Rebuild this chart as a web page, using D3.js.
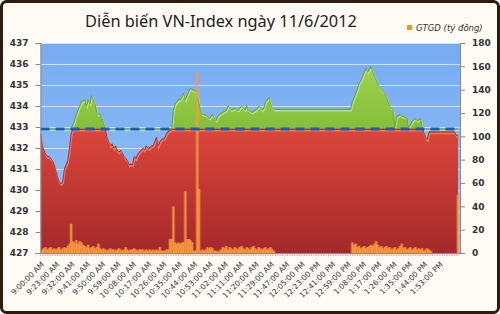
<!DOCTYPE html>
<html><head><meta charset="utf-8">
<script src="https://cdn.jsdelivr.net/npm/d3@7"></script>
<style>body{margin:0;background:#fff;} svg{display:block}</style>
</head><body><svg id="c" width="500" height="314"></svg>
<script>
const chartTitle = "Diễn biến VN-Index ngày 11/6/2012";
const legendLabel = "GTGD (tỷ đồng)";
const refIndex = 432.9;
const leftTicks = [427,428,429,430,431,432,433,434,435,436,437];
const rightTicks = [0,20,40,60,80,100,120,140,160,180];
const tickLabels = ["9:00:00 AM","9:23:00 AM","9:32:00 AM","9:41:00 AM","9:50:00 AM","9:59:00 AM","10:08:00 AM","10:17:00 AM","10:26:00 AM","10:35:00 AM","10:44:00 AM","10:53:00 AM","11:02:00 AM","11:11:00 AM","11:20:00 AM","11:29:00 AM","11:47:00 AM","12:05:00 PM","12:23:00 PM","12:41:00 PM","12:59:00 PM","1:08:00 PM","1:17:00 PM","1:26:00 PM","1:35:00 PM","1:44:00 PM","1:53:00 PM"];
const tickEvery = 9;

const indexValues = [
432.7,432.1,431.9,431.7,431.6,431.6,431.5,431.4,431.2,430.9,
430.6,430.4,430.3,430.4,431.0,431.2,431.4,432.0,432.7,433.1,
433.3,433.6,433.8,434.0,434.2,434.25,434.3,434.0,434.3,434.1,
434.5,434.3,434.1,433.7,433.6,433.6,433.4,433.2,432.9,432.5,
432.3,432.1,432.2,432.0,432.1,431.9,431.8,431.9,431.75,431.6,
431.5,431.4,431.2,431.25,431.2,431.6,431.5,431.7,431.8,431.9,
432.0,431.9,432.1,432.0,432.0,432.1,432.1,432.3,432.5,432.1,
432.3,432.4,432.45,432.5,432.7,432.8,432.85,432.95,433.8,434.1,
434.2,434.3,434.3,434.45,434.6,434.3,434.5,434.7,434.85,434.76,
434.76,434.7,434.6,434.1,433.8,433.6,433.6,433.55,433.5,433.4,
433.5,433.6,433.4,433.3,433.5,433.6,433.65,433.7,433.75,433.8,
434.0,433.9,433.8,433.85,433.9,433.8,433.8,433.9,434.0,433.9,
433.8,434.0,433.8,433.75,433.7,433.75,433.8,433.85,434.0,433.9,
433.8,433.9,434.2,434.3,434.4,434.1,433.9,433.84,433.84,433.84,
433.84,433.84,433.84,433.84,433.84,433.84,433.84,433.84,433.84,433.84,
433.84,433.84,433.84,433.84,433.84,433.84,433.84,433.84,433.84,433.84,
433.84,433.84,433.84,433.84,433.84,433.84,433.84,433.84,433.84,433.84,
433.84,433.84,433.84,433.84,433.84,433.84,433.84,433.84,433.84,433.84,
433.84,433.84,433.84,434.2,434.4,434.6,434.8,435.1,435.2,435.4,
435.6,435.8,435.6,435.75,435.87,435.6,435.4,435.2,435.0,434.9,
434.8,434.7,434.6,434.4,434.2,434.0,433.9,433.8,433.0,433.5,
433.55,433.6,433.5,433.5,433.45,433.4,433.0,433.1,433.25,433.35,
433.4,433.3,433.35,433.4,433.0,432.7,432.5,432.4,432.77,432.77,
432.77,432.77,432.77,432.77,432.77,432.77,432.77,432.77,432.77,432.77,
432.77,432.77,432.77,432.77,432.6,432.6
];

const volumeValues = [
2,3,4,5,3,4,5,3,4,3,
4,5,3,4,5,4,6,8,25,10,
9,11,8,10,9,7,6,5,7,4,
5,6,4,5,8,4,3,4,3,2,
3,4,3,3,2,3,4,3,2,3,
5,3,2,3,3,4,3,2,3,3,
3,2,3,2,3,2,3,2,3,2,
5,2,2,2,3,3,12,12,40,9,
8,9,8,9,9,53,12,12,11,9,
2,2,155,55,2,3,2,3,5,4,
5,4,2,2,1,2,3,5,4,6,
3,5,4,3,5,4,3,5,6,4,
3,5,4,3,5,6,4,3,5,4,
3,4,5,3,4,5,3,2,0,0,
0,0,0,0,0,0,0,0,0,0,
0,0,0,0,0,0,0,0,0,0,
0,0,0,0,0,0,0,0,0,0,
0,0,0,0,0,0,0,0,0,0,
0,0,0,9,7,8,5,6,4,5,
6,4,5,6,7,6,8,10,7,5,
6,4,5,6,4,5,3,4,5,3,
4,6,8,4,5,3,4,5,3,4,
5,3,4,3,4,2,3,4,3,2,
0,0,0,0,0,0,0,0,0,0,
0,0,0,0,0,50
];

// trading-minute categories (session start, count, step in minutes)
const sessions = [["9:00",1,1],["9:15",135,1],["11:31",45,2],["13:00",65,1]];
const categories = [];
sessions.forEach(([s,n,st])=>{
  let [h,m] = s.split(":").map(Number); let t = h*60+m;
  for(let k=0;k<n;k++){ const tt=t+k*st; const hh=Math.floor(tt/60), mm=tt%60;
    const h12 = hh>12?hh-12:hh; categories.push(h12+":"+String(mm).padStart(2,"0")+":00 "+(hh>=12?"PM":"AM")); }
});

const svg = d3.select("#c");
const W=500,H=314;
const L=40.5,R=460,T=43,B=253;
const defs = svg.append("defs");

svg.append("rect").attr("x",1.5).attr("y",1.5).attr("width",W-3).attr("height",H-3)
  .attr("rx",5).attr("fill","#fdfbf4").attr("stroke","#2e1c10").attr("stroke-width",3);

const x = d3.scalePoint().domain(categories).range([L,458]);
const yL = d3.scaleLinear().domain([427,437]).range([B,T]);
const yR = d3.scaleLinear().domain([0,180]).range([B,T]);

const gb = defs.append("linearGradient").attr("id","gBlue").attr("x1",0).attr("y1",0).attr("x2",0).attr("y2",1);
gb.append("stop").attr("offset","0%").attr("stop-color","#77abf2");
gb.append("stop").attr("offset","100%").attr("stop-color","#93c1f8");
const gr = defs.append("linearGradient").attr("id","gRed").attr("gradientUnits","userSpaceOnUse")
  .attr("x1",0).attr("y1",yL(refIndex)).attr("x2",0).attr("y2",B);
gr.append("stop").attr("offset","0%").attr("stop-color","#dc463b");
gr.append("stop").attr("offset","100%").attr("stop-color","#a4292a");
const gg = defs.append("linearGradient").attr("id","gGreen").attr("x1",0).attr("y1",0).attr("x2",0).attr("y2",1);
gg.append("stop").attr("offset","0%").attr("stop-color","#9fd24e");
gg.append("stop").attr("offset","100%").attr("stop-color","#84bf39");
defs.append("clipPath").attr("id","clip").append("rect").attr("x",L).attr("y",T).attr("width",R-L).attr("height",B-T);

svg.append("rect").attr("x",L).attr("y",T).attr("width",R-L).attr("height",B-T).attr("fill","url(#gBlue)");

// gridlines
svg.append("g").selectAll("line").data(leftTicks).join("line")
  .attr("x1",L).attr("x2",R).attr("y1",d=>Math.round(yL(d))+0.5).attr("y2",d=>Math.round(yL(d))+0.5)
  .attr("stroke","#cfe1f7").attr("stroke-width",1);

const plot = svg.append("g").attr("clip-path","url(#clip)");
const xi = (d,i)=>x(categories[i]);

const redTop = d3.line().x(xi).y(d=>yL(Math.min(d,refIndex)));
const greenTop = d3.line().x(xi).y(d=>yL(Math.max(d,refIndex)));

plot.append("path").datum(indexValues)
  .attr("d",d3.area().x(xi).y0(yL(refIndex)).y1(d=>yL(Math.max(d,refIndex))))
  .attr("fill","url(#gGreen)");
plot.append("path").datum(indexValues).attr("d",greenTop).attr("transform","translate(0.8,1.4)")
  .attr("fill","none").attr("stroke","#c4e78e").attr("stroke-width",1.3).attr("opacity",0.8);
plot.append("path").datum(indexValues).attr("d",greenTop)
  .attr("fill","none").attr("stroke","#5b8c27").attr("stroke-width",0.7);

plot.append("path").datum(indexValues)
  .attr("d",d3.area().x(xi).y0(B).y1(d=>yL(Math.min(d,refIndex))))
  .attr("fill","url(#gRed)");
plot.append("path").datum(indexValues).attr("d",redTop).attr("transform","translate(0.6,1.6)")
  .attr("fill","none").attr("stroke","#f08272").attr("stroke-width",1.6).attr("opacity",0.85);
plot.append("path").datum(indexValues).attr("d",redTop)
  .attr("fill","none").attr("stroke","#8a1d18").attr("stroke-width",0.7);

// volume bars
const bw = x.step()*0.95;
const bars = plot.append("g");
bars.selectAll("rect.glow").data(volumeValues).join("rect").attr("class","glow")
  .attr("x",(d,i)=>x(categories[i])-bw/2-1).attr("width",bw+2)
  .attr("y",d=>yR(d)).attr("height",d=>B-yR(d))
  .attr("fill","#f7a050").attr("opacity",d=>d>0?0.35:0);
bars.selectAll("rect.bar").data(volumeValues).join("rect").attr("class","bar")
  .attr("x",(d,i)=>x(categories[i])-bw/2).attr("width",bw)
  .attr("y",d=>yR(d)).attr("height",d=>B-yR(d))
  .attr("fill","#f79a3c").attr("opacity",0.9);

// reference dashed line
svg.append("line").attr("x1",L).attr("x2",R).attr("y1",yL(refIndex)).attr("y2",yL(refIndex))
  .attr("stroke","#1560b5").attr("stroke-width",3).attr("stroke-dasharray","9,6");

// axes
const axFont = "DejaVu Sans";
const gl = svg.append("g").attr("transform",`translate(${L},0)`)
  .call(d3.axisLeft(yL).tickValues(leftTicks).tickSize(5).tickPadding(7).tickFormat(d3.format("d")));
const gr2 = svg.append("g").attr("transform",`translate(${R},0)`)
  .call(d3.axisRight(yR).tickValues(rightTicks).tickSize(5).tickPadding(7).tickFormat(d3.format("d")));
[gl,gr2].forEach(g=>{
  g.select(".domain").attr("stroke","#8a8a8a");
  g.selectAll(".tick line").attr("stroke","#8a8a8a");
  g.selectAll("text").attr("font-family",axFont).attr("font-weight","bold").attr("font-size",9).attr("fill","#333");
});

// category axis
const gx = svg.append("g");
gx.append("line").attr("x1",L).attr("x2",R).attr("y1",B+0.5).attr("y2",B+0.5).attr("stroke","#8a8a8a");
gx.selectAll("line.t").data(categories).join("line").attr("class","t")
  .attr("x1",d=>x(d)).attr("x2",d=>x(d)).attr("y1",B).attr("y2",B+3)
  .attr("stroke","#9a9a9a").attr("stroke-width",0.6);
gx.selectAll("text").data(tickLabels).join("text")
  .attr("transform",(d,k)=>`translate(${x(categories[k*tickEvery])+4},${B+12}) rotate(-45)`)
  .attr("text-anchor","end").attr("font-family",axFont).attr("font-size",7.5).attr("fill","#333")
  .text(d=>d);

// title
const tt = svg.append("text").attr("x",221).attr("y",27).attr("text-anchor","middle")
  .attr("font-family","Noto Sans").attr("font-size",16).attr("fill","#222").text(chartTitle);
const tw = tt.node().getComputedTextLength();
tt.attr("font-size",16*272/tw);

// legend
svg.append("rect").attr("x",407).attr("y",25).attr("width",5).attr("height",5).attr("fill","#f7941d");
svg.append("text").attr("x",416).attr("y",31).attr("font-family",axFont).attr("font-style","italic")
  .attr("font-size",8.5).attr("fill","#333").text(legendLabel);
</script></body></html>
